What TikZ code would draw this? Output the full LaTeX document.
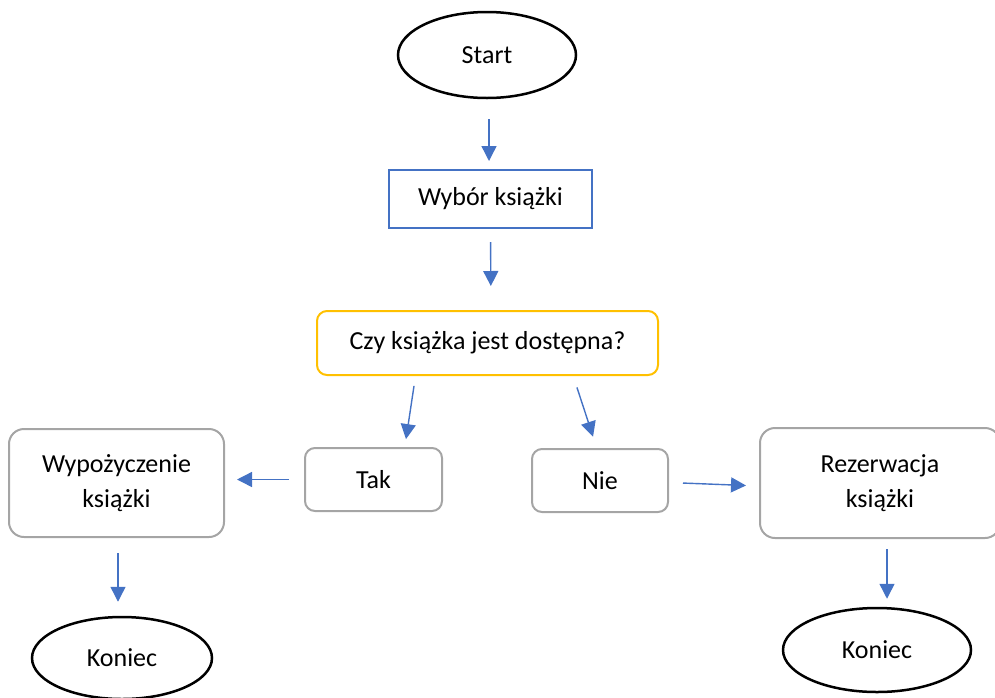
\documentclass[tikz,border=0pt]{standalone}
\usepackage{fontspec}
\setmainfont{Carlito}
\usetikzlibrary{shapes.geometric,arrows.meta}
\definecolor{oblue}{HTML}{4472C4}
\definecolor{oyellow}{HTML}{FFC000}
\definecolor{ogray}{HTML}{A5A5A5}
\tikzset{
  every node/.style={font=\fontsize{26}{35}\selectfont, inner sep=0pt, align=center},
  terminal/.style={ellipse, draw=black, line width=2.5pt, minimum width=#1, minimum height=86pt},
  arr/.style={draw=oblue, line width=1.4pt, -{Triangle[width=15pt,length=15pt]}},
  graybox/.style={draw=ogray, line width=2pt, rounded corners=#1},
}
\begin{document}
\begin{tikzpicture}[x=1pt,y=-1pt]
\useasboundingbox (0,0) rectangle (995,697);
\node[terminal=178pt] (start) at (487,55) {Start};
\node[draw=oblue, line width=2pt, minimum width=203pt, minimum height=58pt] (wyb) at (490.5,199) {Wybór książki};
\node[draw=oyellow, line width=2pt, rounded corners=10pt, minimum width=341pt, minimum height=64pt] (q) at (487.5,343) {Czy książka jest dostępna?};
\node[graybox=10pt, minimum width=137pt, minimum height=63pt] (tak) at (373.5,479.5) {Tak};
\node[graybox=10pt, minimum width=136pt, minimum height=63pt] (nie) at (600,480.5) {Nie};
\node[graybox=15pt, minimum width=215pt, minimum height=108pt] (wyp) at (116.5,483) {Wypożyczenie\\książki};
\node[graybox=15pt, minimum width=240pt, minimum height=110pt] (rez) at (880,483) {Rezerwacja\\książki};
\node[terminal=180pt, minimum height=82pt] (k1) at (122,658) {Koniec};
\node[terminal=188pt, minimum height=84pt] (k2) at (877,650) {Koniec};

\draw[arr, shorten <=20pt, shorten >=8pt] ([xshift=2pt]start.south) -- ([xshift=-1.5pt]wyb.north);
\draw[arr, shorten <=13pt, shorten >=24pt] (wyb.south) -- ([xshift=3.5pt]q.north);
\draw[arr, shorten <=10pt, shorten >=8pt] ([xshift=-72pt]q.south) -- ([xshift=31.3pt]tak.north);
\draw[arr, shorten <=12pt, shorten >=12pt] ([xshift=85.7pt]q.south) -- ([xshift=-3.2pt]nie.north);
\draw[arr, shorten <=15pt, shorten >=12pt] (tak.west) -- (wyp.east |- tak.west);
\draw[arr, shorten <=14pt, shorten >=13pt] ([yshift=-2pt]nie.east) -- ([yshift=-3pt]rez.west);
\draw[arr, shorten <=15pt, shorten >=14pt] ([xshift=1.5pt]wyp.south) -- ([xshift=-4pt]k1.north);
\draw[arr, shorten <=10pt, shorten >=8pt] ([xshift=7pt]rez.south) -- ([xshift=10pt]k2.north);
\end{tikzpicture}
\end{document}
